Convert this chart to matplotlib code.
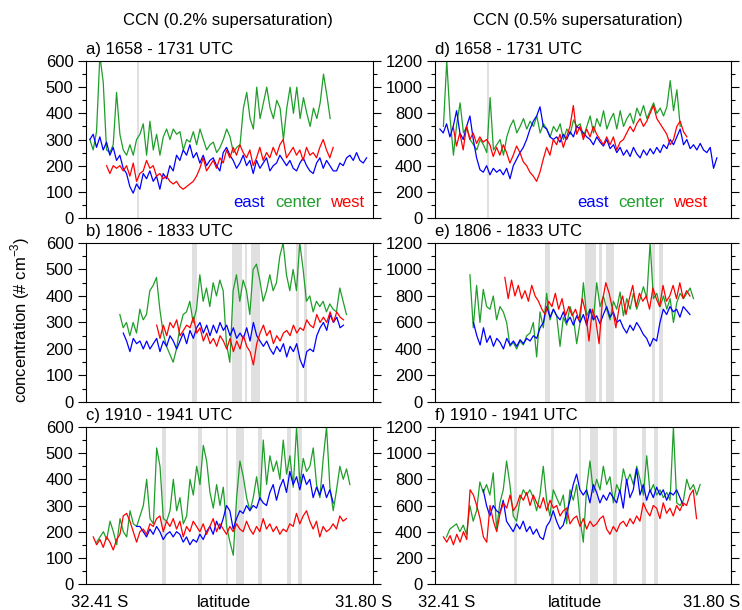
import numpy as np
import matplotlib
matplotlib.use("Agg")
import matplotlib.pyplot as plt
from matplotlib.ticker import MultipleLocator

plt.rcParams['font.family'] = ['Liberation Sans', 'DejaVu Sans']
plt.rcParams['mathtext.fontset'] = 'custom'
plt.rcParams['mathtext.rm'] = 'Liberation Sans'

# flight legs: CCN concentration (# cm-3) along latitude, first/last latitude of each record
a_east_lat = (32.431, 31.785)
a_east = [300, 320, 270, 310, 260, 290, 240, 270, 220, 240, 190, 170, 120, 95, 130, 110, 170, 150, 180, 140,
          160, 110, 170, 150, 200, 180, 240, 220, 260, 240, 280, 230, 250, 210, 240, 200, 220, 230, 200, 180,
          250, 270, 240, 220, 190, 210, 240, 200, 220, 170, 220, 190, 210, 230, 180, 200, 210, 240, 220, 200,
          220, 190, 180, 210, 230, 200, 180, 170, 210, 230, 190, 220, 200, 180, 180, 210, 200, 230, 240, 220,
          250, 220, 210, 230]
a_center_lat = (32.431, 31.870)
a_center = [300, 260, 330, 620, 520, 260, 250, 280, 480, 320, 260, 240, 280, 240, 300, 320, 360, 240, 370, 260,
            320, 240, 310, 340, 300, 340, 320, 330, 260, 300, 290, 330, 280, 340, 300, 260, 280, 290, 250, 270,
            300, 340, 310, 250, 270, 280, 420, 480, 380, 340, 500, 380, 440, 500, 420, 380, 450, 420, 300, 420,
            500, 400, 500, 380, 460, 400, 350, 420, 380, 440, 550, 470, 380]
a_west_lat = (32.392, 31.863)
a_west = [200, 170, 200, 190, 200, 180, 200, 160, 210, 140, 170, 180, 220, 190, 200, 160, 170, 150, 160, 140,
          130, 140, 120, 110, 120, 130, 140, 160, 190, 230, 180, 200, 220, 190, 230, 210, 260, 230, 270, 240,
          280, 250, 230, 260, 200, 230, 270, 220, 250, 230, 270, 240, 280, 300, 230, 250, 270, 240, 260, 220,
          270, 240, 250, 230, 270, 300, 260, 230, 270]

b_east_lat = (32.353, 31.839)
b_east = [260, 230, 190, 240, 220, 230, 200, 230, 200, 220, 240, 190, 230, 210, 250, 230, 200, 230, 260, 220,
          270, 240, 280, 300, 260, 290, 250, 290, 260, 300, 270, 290, 250, 280, 240, 260, 240, 280, 230, 300,
          250, 230, 210, 230, 200, 180, 210, 190, 220, 170, 210, 190, 220, 160, 130, 190, 200, 190, 250, 280,
          300, 270, 330, 300, 320, 280, 290]
b_center_lat = (32.361, 31.832)
b_center = [330, 280, 300, 250, 300, 260, 350, 310, 330, 420, 440, 470, 350, 260, 210, 180, 150, 200, 280, 330,
            340, 380, 300, 350, 480, 380, 430, 360, 450, 400, 460, 420, 220, 150, 420, 480, 380, 460, 420, 330,
            500, 520, 460, 380, 420, 480, 420, 450, 550, 600, 480, 420, 500, 420, 600, 500, 380, 400, 340, 380,
            360, 380, 340, 370, 350, 340, 430, 380, 330]
b_west_lat = (32.275, 31.839)
b_west = [290, 240, 290, 250, 300, 280, 310, 250, 270, 290, 280, 320, 260, 280, 230, 260, 220, 240, 210, 250,
          230, 200, 240, 190, 230, 200, 250, 210, 190, 140, 220, 260, 290, 250, 270, 220, 250, 230, 260, 270,
          250, 290, 260, 280, 270, 310, 290, 280, 330, 300, 320, 300, 340, 300, 340, 320, 310]

c_east_lat = (32.322, 31.863)
c_east = [220, 220, 200, 180, 210, 190, 220, 200, 170, 190, 200, 180, 200, 190, 160, 180, 150, 170, 160, 190,
          170, 200, 220, 190, 240, 210, 250, 300, 280, 210, 250, 280, 270, 300, 280, 300, 290, 330, 310, 300,
          350, 380, 320, 370, 400, 350, 430, 380, 410, 360, 420, 380, 400, 330, 370, 340, 380, 330, 360, 310]
c_center_lat = (32.415, 31.824)
c_center = [160, 180, 200, 170, 240, 200, 150, 250, 200, 180, 280, 230, 220, 260, 300, 400, 250, 230, 520, 450,
            250, 240, 280, 400, 280, 330, 230, 260, 400, 340, 450, 380, 530, 470, 350, 290, 380, 300, 370, 220,
            160, 110, 330, 470, 410, 330, 280, 330, 410, 320, 550, 380, 490, 430, 470, 400, 550, 420, 490, 370,
            600, 380, 480, 430, 450, 520, 380, 330, 480, 600, 370, 280, 360, 450, 400, 440, 380]
c_west_lat = (32.423, 31.832)
c_west = [180, 150, 170, 140, 180, 160, 130, 170, 190, 260, 270, 240, 200, 160, 200, 210, 190, 230, 220, 250,
          260, 200, 240, 220, 250, 210, 240, 180, 220, 200, 240, 220, 200, 230, 190, 220, 250, 200, 230, 210,
          190, 220, 200, 230, 210, 200, 240, 210, 190, 220, 200, 250, 210, 230, 200, 220, 190, 210, 200, 230,
          220, 270, 230, 260, 280, 240, 210, 240, 180, 220, 200, 210, 230, 210, 260, 240, 250]

d_east_lat = (32.429, 31.802)
d_east = [680, 650, 720, 620, 700, 820, 650, 600, 700, 780, 600, 460, 370, 350, 400, 330, 380, 350, 370, 330,
          380, 300, 400, 450, 500, 540, 600, 680, 740, 780, 850, 700, 680, 620, 600, 620, 580, 640, 600, 660,
          620, 700, 680, 650, 620, 600, 560, 620, 580, 550, 600, 530, 560, 500, 540, 480, 520, 470, 540, 490,
          460, 520, 480, 530, 490, 540, 500, 560, 530, 600, 560, 620, 680, 560, 600, 530, 560, 520, 570, 520,
          500, 540, 380, 460]
d_center_lat = (32.421, 31.885)
d_center = [700, 1200, 760, 480, 720, 880, 650, 700, 600, 560, 520, 600, 560, 500, 920, 520, 560, 600, 480, 620,
            700, 750, 650, 700, 760, 680, 740, 700, 780, 650, 720, 680, 620, 700, 660, 720, 600, 680, 640, 750,
            700, 720, 620, 700, 780, 650, 760, 700, 820, 680, 750, 800, 680, 820, 700, 760, 800, 720, 840, 780,
            860, 760, 820, 880, 800, 840, 780, 850, 1050, 820, 980, 700]
d_west_lat = (32.399, 31.870)
d_west = [700, 550, 650, 520, 700, 600, 650, 570, 620, 580, 600, 560, 470, 540, 480, 560, 500, 420, 480, 550,
          500, 430, 400, 350, 320, 280, 350, 450, 540, 480, 600, 560, 640, 540, 620, 700, 860, 640, 700, 600,
          680, 620, 700, 640, 600, 560, 620, 560, 620, 520, 580, 600, 650, 700, 660, 720, 760, 700, 740, 800,
          860, 760, 720, 680, 640, 560, 600, 700, 740, 660, 620]

e_east_lat = (32.353, 31.863)
e_east = [600, 500, 430, 560, 450, 500, 420, 480, 450, 400, 480, 430, 460, 420, 470, 440, 480, 460, 500, 480,
          560, 600, 720, 640, 700, 650, 620, 680, 600, 640, 580, 650, 600, 660, 580, 700, 620, 650, 590, 660,
          720, 640, 680, 600, 620, 560, 520, 580, 540, 600, 560, 510, 480, 420, 480, 460, 600, 700, 660, 720,
          680, 700, 640, 720, 690, 660]
e_center_lat = (32.361, 31.855)
e_center = [960, 560, 880, 600, 850, 720, 700, 800, 620, 720, 680, 600, 420, 450, 400, 460, 430, 500, 520, 600,
            340, 680, 560, 820, 620, 700, 650, 420, 640, 580, 720, 640, 440, 600, 900, 650, 700, 620, 900, 720,
            800, 700, 620, 760, 700, 830, 650, 780, 700, 820, 700, 780, 870, 780, 1200, 780, 820, 720, 800, 700,
            780, 600, 750, 820, 780, 820, 860, 780]
e_west_lat = (32.282, 31.863)
e_west = [940, 780, 920, 800, 880, 780, 840, 760, 880, 800, 760, 700, 660, 760, 720, 820, 700, 780, 650, 720,
          650, 700, 620, 780, 680, 460, 700, 620, 440, 760, 900, 820, 700, 560, 720, 800, 660, 780, 880, 720,
          820, 760, 800, 700, 860, 780, 720, 880, 760, 800, 880, 780, 900, 780, 840, 800]

f_east_lat = (32.331, 31.878)
f_east = [720, 600, 520, 600, 560, 540, 640, 480, 440, 400, 460, 420, 480, 400, 440, 380, 420, 360, 340, 440,
          480, 560, 480, 420, 450, 540, 640, 760, 840, 720, 680, 720, 620, 760, 700, 620, 680, 640, 700, 660,
          620, 720, 580, 800, 660, 720, 880, 680, 760, 640, 720, 660, 740, 680, 720, 640, 700, 680, 720, 660,
          600]
f_center_lat = (32.414, 31.840)
f_center = [360, 420, 440, 460, 400, 450, 380, 600, 480, 560, 780, 700, 760, 680, 850, 420, 620, 720, 940, 760,
            520, 480, 640, 720, 680, 720, 660, 560, 680, 900, 640, 520, 720, 660, 600, 680, 460, 720, 640, 760,
            500, 320, 740, 940, 700, 800, 720, 900, 760, 820, 620, 760, 700, 880, 780, 840, 760, 900, 800, 680,
            980, 700, 760, 680, 720, 660, 700, 640, 1200, 620, 600, 640, 800, 720, 760, 680, 760]
f_west_lat = (32.421, 31.848)
f_west = [360, 320, 370, 300, 380, 320, 400, 340, 720, 680, 600, 500, 360, 320, 600, 480, 400, 540, 620, 580,
          680, 560, 600, 680, 640, 700, 600, 680, 620, 580, 660, 560, 640, 580, 600, 520, 560, 580, 460, 500,
          520, 440, 500, 420, 480, 440, 460, 500, 520, 420, 380, 440, 400, 460, 480, 440, 500, 460, 520, 480,
          620, 560, 520, 600, 580, 500, 620, 540, 580, 520, 600, 560, 620, 600, 680, 720, 500]

# gaps (excluded segments) in each leg, shared by both supersaturations
gaps_1 = [(32.322, 32.317)]
gaps_2 = [(32.192, 32.180), (32.100, 32.075), (32.068, 32.063), (32.054, 32.034),
          (31.950, 31.943), (31.932, 31.924)]
gaps_3 = [(32.262, 32.254), (32.178, 32.170), (32.114, 32.109), (32.090, 32.070),
          (32.038, 32.028), (31.971, 31.962), (31.944, 31.936)]

titles = ['a) 1658 - 1731 UTC', 'b) 1806 - 1833 UTC', 'c) 1910 - 1941 UTC',
          'd) 1658 - 1731 UTC', 'e) 1806 - 1833 UTC', 'f) 1910 - 1941 UTC']
lat_labels = ['32.41 S', 'latitude', '31.80 S']

c_e, c_c, c_w = '#0000ff', '#1f9e2a', '#ff0000'

fig = plt.figure(figsize=(7.42, 6.10), dpi=100)

lefts = [0.1159, 0.5863]
widths = [0.3868, 0.3989]
bottoms = [0.6426, 0.3410, 0.0426]
heights = [0.2574, 0.2607, 0.2574]

panels = [
    [(a_east_lat, a_east, a_center_lat, a_center, a_west_lat, a_west),
     (b_east_lat, b_east, b_center_lat, b_center, b_west_lat, b_west),
     (c_east_lat, c_east, c_center_lat, c_center, c_west_lat, c_west)],
    [(d_east_lat, d_east, d_center_lat, d_center, d_west_lat, d_west),
     (e_east_lat, e_east, e_center_lat, e_center, e_west_lat, e_west),
     (f_east_lat, f_east, f_center_lat, f_center, f_west_lat, f_west)],
]
gaps = [gaps_1, gaps_2, gaps_3]

for col in range(2):
    ymax = 600 if col == 0 else 1200
    for row in range(3):
        ax = fig.add_axes([lefts[col], bottoms[row], widths[col], heights[row]])
        for g0, g1 in gaps[row]:
            ax.axvspan(g0, g1, color='#e0e0e0', lw=0, zorder=0)
        el, ev, cl, cv, wl, wv = panels[col][row]
        ax.plot(np.linspace(cl[0], cl[1], len(cv)), cv, color=c_c, lw=0.9, zorder=2)
        ax.plot(np.linspace(el[0], el[1], len(ev)), ev, color=c_e, lw=0.9, zorder=3)
        ax.plot(np.linspace(wl[0], wl[1], len(wv)), wv, color=c_w, lw=0.9, zorder=4)

        ax.set_xlim(32.44, 31.77)
        ax.set_ylim(0, ymax)
        ax.yaxis.set_major_locator(MultipleLocator(ymax / 6))
        ax.yaxis.set_minor_locator(MultipleLocator(ymax / 12))
        ax.tick_params(axis='y', which='both', direction='out', left=True, right=True,
                       labelsize=12, width=0.8, pad=3)
        ax.tick_params(axis='y', which='major', length=6)
        ax.tick_params(axis='y', which='minor', length=3)
        ax.set_xticks([])
        for s in ax.spines.values():
            s.set_linewidth(0.8)

        ax.text(0, 1.045, titles[col * 3 + row], transform=ax.transAxes,
                fontsize=12, ha='left', va='baseline')

        if row == 0:
            lx = [0.512, 0.659, 0.850] if col == 0 else [0.48, 0.618, 0.804]
            for x, name, c in zip(lx, ['east', 'center', 'west'], [c_e, c_c, c_w]):
                ax.text(x, 0.10, name, color=c, transform=ax.transAxes,
                        fontsize=12, ha='left', va='center')
        if row == 2:
            px = [0.049, 0.48, 0.968] if col == 0 else [0.04, 0.473, 0.935]
            for x, lab in zip(px, lat_labels):
                ax.text(x, -0.12, lab, transform=ax.transAxes, fontsize=12, ha='center', va='center')

fig.text(0.307, 0.9656, 'CCN (0.2% supersaturation)', fontsize=12, ha='center', va='center')
fig.text(0.779, 0.9656, 'CCN (0.5% supersaturation)', fontsize=12, ha='center', va='center')
fig.text(0.027, 0.475, r'concentration (# cm$^{-3}$)', fontsize=12, rotation=90,
         ha='center', va='center')

fig.savefig('out.png', dpi=100)
